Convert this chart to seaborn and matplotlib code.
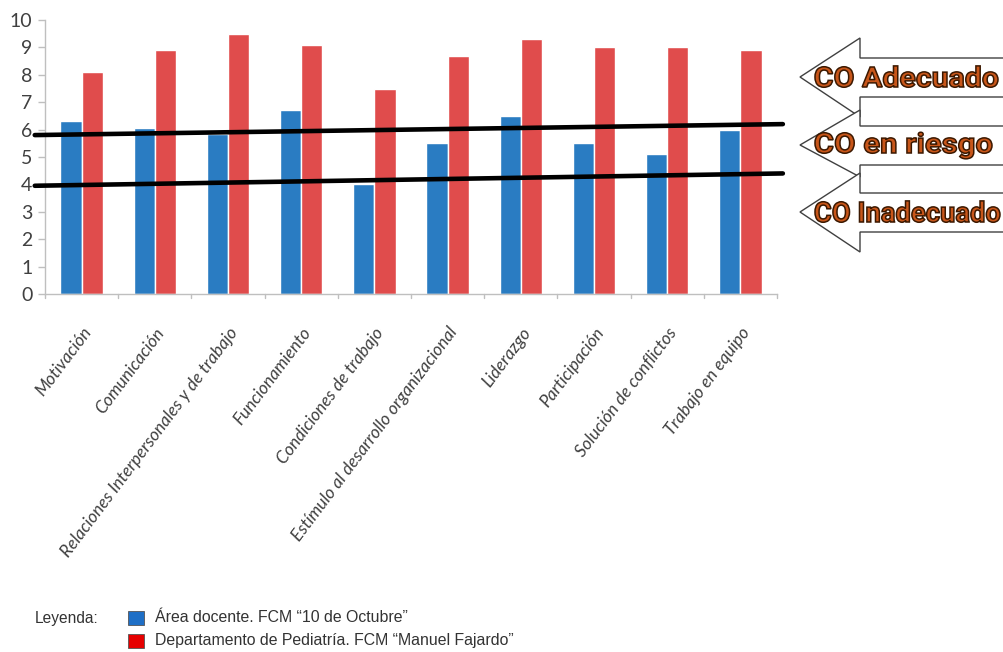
import pandas as pd
import matplotlib
matplotlib.use("Agg")
import matplotlib.pyplot as plt
from matplotlib.patches import Polygon, Rectangle, PathPatch
from matplotlib.textpath import TextPath
from matplotlib.font_manager import FontProperties
from matplotlib.transforms import Affine2D, IdentityTransform
import seaborn as sns

# datos
categorias = ["Motivación", "Comunicación", "Relaciones Interpersonales y de trabajo",
              "Funcionamiento", "Condiciones de trabajo", "Estímulo al desarrollo organizacional",
              "Liderazgo", "Participación", "Solución de conflictos", "Trabajo en equipo"]
area_docente = [6.3, 6.05, 5.85, 6.7, 4.0, 5.5, 6.5, 5.5, 5.1, 6.0]
pediatria = [8.1, 8.9, 9.5, 9.1, 7.5, 8.7, 9.3, 9.0, 9.0, 8.9]
serie_1 = "Área docente. FCM \u201c10 de Octubre\u201d"
serie_2 = "Departamento de Pediatría. FCM \u201cManuel Fajardo\u201d"
y_ticks = list(range(0, 11))
# lineas de corte (inicio, fin)
linea_alta = [5.8, 6.2]
linea_baja = [3.95, 4.4]
etiquetas_co = ["CO Adecuado", "CO en riesgo", "CO Inadecuado"]

df = pd.DataFrame({
    "categoria": categorias * 2,
    "valor": area_docente + pediatria,
    "serie": [serie_1] * len(categorias) + [serie_2] * len(categorias),
})

sns.set_style("white")
plt.rcParams["font.family"] = ["Lato", "DejaVu Sans"]

W, H = 1004, 652
fig = plt.figure(figsize=(W / 100, H / 100), dpi=100)
ax = fig.add_axes([45 / W, 1 - 294 / H, (777 - 45) / W, (294 - 20) / H])

azul = "#2a7cc2"
rojo = "#e04c4c"
sns.barplot(data=df, x="categoria", y="valor", hue="serie", palette=[azul, rojo],
            width=0.58, saturation=1, ax=ax, legend=False)

ax.set_xlim(-0.5, len(categorias) - 0.5)
ax.set_ylim(0, 10)
ax.set_yticks(y_ticks)
ax.set_yticklabels([str(t) for t in y_ticks], fontsize=14, color="#404040")
ax.set_xlabel("")
ax.set_ylabel("")
ax.set_xticks([i for i in range(len(categorias))])
ax.set_xticklabels(categorias, rotation=53, ha="right", rotation_mode="anchor",
                   fontsize=12.5, style="italic", color="#404040")
ax.tick_params(axis="x", length=0, pad=22)
ax.tick_params(axis="y", length=5, color="#bfbfbf", width=1, left=True, pad=4)
# marcas entre categorias
for b in [i - 0.5 for i in range(len(categorias) + 1)]:
    ax.plot([b, b], [0, -0.15], color="#bfbfbf", lw=1, clip_on=False)
for s in ["top", "right"]:
    ax.spines[s].set_visible(False)
for s in ["left", "bottom"]:
    ax.spines[s].set_color("#bfbfbf")
    ax.spines[s].set_linewidth(1)

# lineas negras
x0, x1 = -0.64, 9.58
ax.plot([x0, x1], linea_alta, color="black", lw=3.3, clip_on=False, zorder=5)
ax.plot([x0, x1], linea_baja, color="black", lw=3.3, clip_on=False, zorder=5)

# flechas
def px(x, y):
    return (x / W, 1 - y / H)

flechas = [(77, 38, 58, 97, 117), (145, 110, 126, 165, 177), (212, 173, 193, 232, 252)]
for tip, ht, bt, bb, hb in flechas:
    pts = [px(800, tip), px(860, ht), px(860, bt), px(1010, bt),
           px(1010, bb), px(860, bb), px(860, hb)]
    fig.patches.append(Polygon(pts, closed=True, transform=fig.transFigure,
                               facecolor="white", edgecolor="#404040", lw=1))

# texto condensado: (izquierda, derecha, base de mayusculas, alto de mayusculas) en px
cajas = [(815, 998, 87, 20), (815, 992, 153, 20), (815, 1000, 222, 20)]
fp = FontProperties(family=["Roboto", "DejaVu Sans"], weight="bold")
for txt, (xl, xr, yb, ch) in zip(etiquetas_co, cajas):
    tp = TextPath((0, 0), txt, size=1, prop=fp)
    cap = TextPath((0, 0), "H", size=1, prop=fp).get_extents()
    ext = tp.get_extents()
    sx = (xr - xl) / ext.width
    sy = ch / cap.ymax
    tr = Affine2D().translate(-ext.xmin, 0).scale(sx, sy).translate(xl, H - yb)
    fig.patches.append(PathPatch(tr.transform_path(tp), transform=IdentityTransform(),
                                 facecolor="#c8561a", edgecolor="#3b1800", lw=1.1))

# leyenda
fig.text(35 / W, 1 - 619 / H, "Leyenda:", fontsize=11.2, color="#333333",
         va="center", family=["Liberation Sans", "DejaVu Sans"])
for yy, col, txt in [(618, "#1f6fc6", serie_1), (641, "#e60000", serie_2)]:
    fig.patches.append(Rectangle(px(128, yy + 7), 16 / W, 14 / H, transform=fig.transFigure,
                                 facecolor=col, edgecolor="#555555", lw=0.6))
    fig.text(155 / W, 1 - yy / H, txt, fontsize=11.4, color="#333333", va="center",
             family=["Liberation Sans", "DejaVu Sans"])

fig.savefig("out.png", dpi=100, facecolor="white")
